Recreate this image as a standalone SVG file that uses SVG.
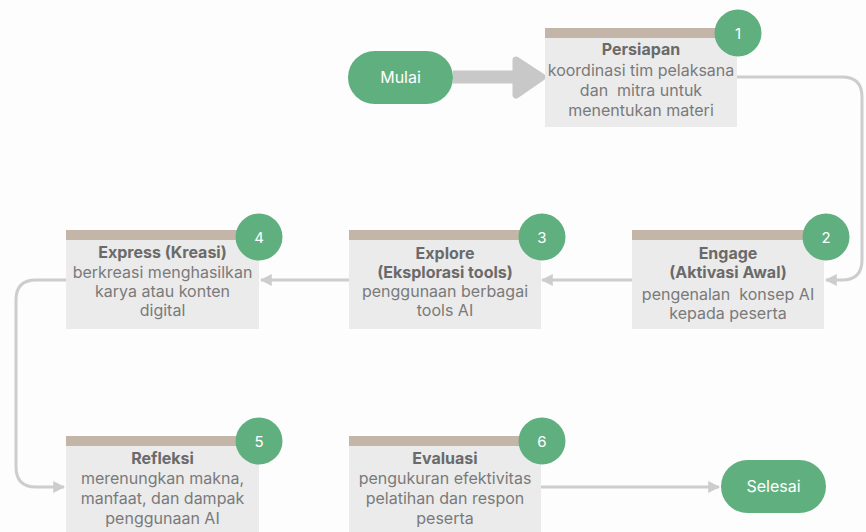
<svg xmlns="http://www.w3.org/2000/svg" width="866" height="532" viewBox="0 0 866 532">
<style>
  .box{fill:#ebebeb}
  .bar{fill:#c3b6a9}
  .badge{fill:#60b07f}
  .num{fill:#ffffff;font-family:Inter,"Liberation Sans",sans-serif;font-size:15px;text-anchor:middle}
  .t{fill:#6a6a6a;font-family:Inter,"Liberation Sans",sans-serif;font-size:16px;font-weight:700;text-anchor:middle}
  .b{fill:#7a7a7a;font-family:Inter,"Liberation Sans",sans-serif;font-size:16px;text-anchor:middle}
  .pill{fill:#60b07f}
  .pt{fill:#ffffff;font-family:Inter,"Liberation Sans",sans-serif;font-size:16px;text-anchor:middle}
  .c{fill:none;stroke:#cdcdcd;stroke-width:3}
</style>
<defs>
  <marker id="ah" viewBox="0 0 10 10" refX="9" refY="5" markerWidth="4" markerHeight="4.4" orient="auto" markerUnits="strokeWidth">
    <path d="M0,0 L10,5 L0,10 Z" fill="#cdcdcd"/>
  </marker>
</defs>
<rect width="866" height="532" fill="#fdfdfd"/>

<g id="connectors">
  <line x1="453" y1="77" x2="518" y2="77" stroke="#c8c8c8" stroke-width="13"/>
  <polygon points="516,60 542,77 516,95" fill="#c8c8c8" stroke="#c8c8c8" stroke-width="7" stroke-linejoin="round"/>
  <path class="c" d="M737,77 H842 Q862,77 862,97 V260 Q862,280 842,280 H826" marker-end="url(#ah)"/>
  <path class="c" d="M632,280 H542" marker-end="url(#ah)"/>
  <path class="c" d="M349,280 H261" marker-end="url(#ah)"/>
  <path class="c" d="M66,280 H36 Q16,280 16,300 V467 Q16,487 36,487 H64" marker-end="url(#ah)"/>
  <path class="c" d="M540,487 H719" marker-end="url(#ah)"/>
</g>

<g id="start">
  <rect class="pill" x="348" y="51" width="105" height="53" rx="26.5"/>
  <text class="pt" x="400.5" y="83">Mulai</text>
</g>

<g id="step1">
  <rect class="box" x="545" y="28" width="192" height="99"/>
  <rect class="bar" x="545" y="28" width="192" height="10"/>
  <text class="t" x="641" y="55">Persiapan</text>
  <text class="b" x="641" y="76">koordinasi tim pelaksana</text>
  <text class="b" x="641" y="96" xml:space="preserve">dan  mitra untuk</text>
  <text class="b" x="641" y="116">menentukan materi</text>
  <circle class="badge" cx="738" cy="33" r="23.5"/>
  <text class="num" x="738" y="38.5">1</text>
</g>

<g id="step2">
  <rect class="box" x="632" y="230" width="192" height="99"/>
  <rect class="bar" x="632" y="230" width="192" height="10"/>
  <text class="t" x="728" y="259">Engage</text>
  <text class="t" x="728" y="278">(Aktivasi Awal)</text>
  <text class="b" x="728" y="300" xml:space="preserve">pengenalan  konsep AI</text>
  <text class="b" x="728" y="319">kepada peserta</text>
  <circle class="badge" cx="826" cy="237" r="23.5"/>
  <text class="num" x="826" y="242.5">2</text>
</g>

<g id="step3">
  <rect class="box" x="349" y="230" width="192" height="99"/>
  <rect class="bar" x="349" y="230" width="192" height="10"/>
  <text class="t" x="445" y="259">Explore</text>
  <text class="t" x="445" y="278">(Eksplorasi tools)</text>
  <text class="b" x="445" y="297">penggunaan berbagai</text>
  <text class="b" x="445" y="316">tools AI</text>
  <circle class="badge" cx="542" cy="237" r="23.5"/>
  <text class="num" x="542" y="242.5">3</text>
</g>

<g id="step4">
  <rect class="box" x="66" y="230" width="193" height="99"/>
  <rect class="bar" x="66" y="230" width="193" height="10"/>
  <text class="t" x="162.5" y="258">Express (Kreasi)</text>
  <text class="b" x="162.5" y="278">berkreasi menghasilkan</text>
  <text class="b" x="162.5" y="297">karya atau konten</text>
  <text class="b" x="162.5" y="316">digital</text>
  <circle class="badge" cx="259" cy="237" r="23.5"/>
  <text class="num" x="259" y="242.5">4</text>
</g>

<g id="step5">
  <rect class="box" x="66" y="436" width="193" height="100"/>
  <rect class="bar" x="66" y="436" width="193" height="10"/>
  <text class="t" x="162.5" y="464">Refleksi</text>
  <text class="b" x="162.5" y="484">merenungkan makna,</text>
  <text class="b" x="162.5" y="504">manfaat, dan dampak</text>
  <text class="b" x="162.5" y="524">penggunaan AI</text>
  <circle class="badge" cx="259" cy="441" r="23.5"/>
  <text class="num" x="259" y="446.5">5</text>
</g>

<g id="step6">
  <rect class="box" x="349" y="436" width="192" height="100"/>
  <rect class="bar" x="349" y="436" width="192" height="10"/>
  <text class="t" x="445" y="464">Evaluasi</text>
  <text class="b" x="445" y="484">pengukuran efektivitas</text>
  <text class="b" x="445" y="504">pelatihan dan respon</text>
  <text class="b" x="445" y="524">peserta</text>
  <circle class="badge" cx="542" cy="441" r="23.5"/>
  <text class="num" x="542" y="446.5">6</text>
</g>

<g id="end">
  <rect class="pill" x="721" y="460" width="105" height="53" rx="26.5"/>
  <text class="pt" x="773.5" y="492">Selesai</text>
</g>
</svg>
